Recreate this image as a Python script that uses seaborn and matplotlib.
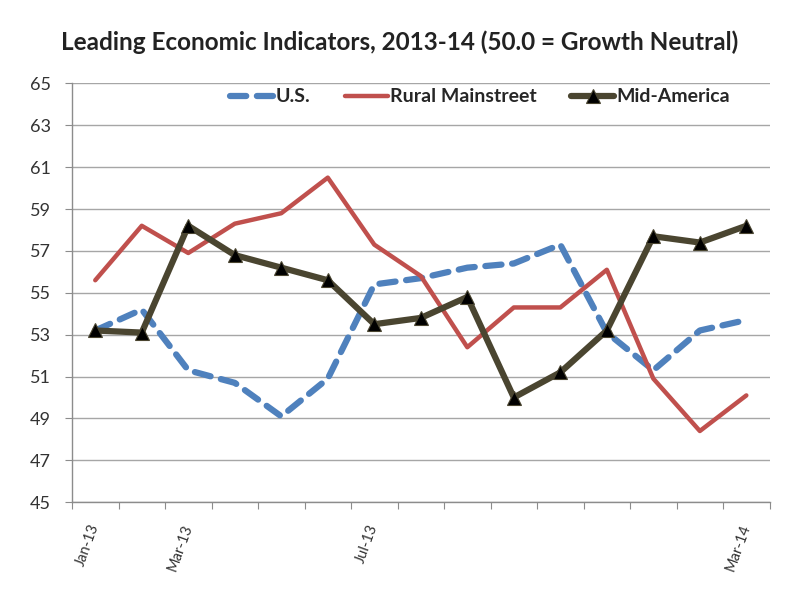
import matplotlib
matplotlib.use("Agg")
import matplotlib.pyplot as plt
from matplotlib.ticker import FixedLocator, NullFormatter
import seaborn as sns
import pandas as pd

months = ["Jan-13", "Feb-13", "Mar-13", "Apr-13", "May-13", "Jun-13", "Jul-13",
          "Aug-13", "Sep-13", "Oct-13", "Nov-13", "Dec-13", "Jan-14", "Feb-14", "Mar-14"]
us = [53.2, 54.2, 51.3, 50.7, 49.1, 50.9, 55.4, 55.7, 56.2, 56.4, 57.3, 53.1, 51.3, 53.2, 53.7]
rural = [55.6, 58.2, 56.9, 58.3, 58.8, 60.5, 57.3, 55.8, 52.4, 54.3, 54.3, 56.1, 50.9, 48.4, 50.1]
mid_america = [53.2, 53.1, 58.2, 56.8, 56.2, 55.6, 53.5, 53.8, 54.8, 50.0, 51.2, 53.2, 57.7, 57.4, 58.2]
labeled_months = ["Jan-13", "Mar-13", "Jul-13", "Mar-14"]
y_ticks = [45, 47, 49, 51, 53, 55, 57, 59, 61, 63, 65]
title = "Leading Economic Indicators, 2013-14 (50.0 = Growth Neutral)"

sns.set_style("white")
plt.rcParams['font.family'] = ['Lato', 'DejaVu Sans']

df = pd.DataFrame({"idx": range(len(months)), "month": months,
                   "U.S.": us, "Rural Mainstreet": rural, "Mid-America": mid_america})

fig = plt.figure(figsize=(8, 6), dpi=100)
ax = fig.add_axes([0.09, 0.163, 0.872, 0.698])

sns.lineplot(data=df, x="idx", y="U.S.", ax=ax, color="#4F81BD", linewidth=4.5,
             linestyle=(0, (2.6, 1.7)), dash_capstyle="round", label="U.S.")
sns.lineplot(data=df, x="idx", y="Rural Mainstreet", ax=ax, color="#C0504D",
             linewidth=3.2, label="Rural Mainstreet")
sns.lineplot(data=df, x="idx", y="Mid-America", ax=ax, color="#4A4530", linewidth=4.5,
             marker="^", markersize=10.5, markerfacecolor="black", markeredgecolor="#4A4530",
             markeredgewidth=0.8, label="Mid-America")

ax.set_xlim(-0.5, len(months) - 0.5)
ax.set_ylim(45, 65)
ax.set_yticks(y_ticks)
ax.set_yticklabels([str(v) for v in y_ticks], fontsize=13, color="#333333")
ax.yaxis.grid(True, color="#A6A6A6", linewidth=1)
ax.set_axisbelow(True)

# category boundary ticks
ax.xaxis.set_major_locator(FixedLocator([i - 0.5 for i in range(len(months) + 1)]))
ax.xaxis.set_major_formatter(NullFormatter())
lab_pos = [months.index(m) for m in labeled_months]
ax.xaxis.set_minor_locator(FixedLocator(lab_pos))
ax.set_xticklabels(labeled_months, minor=True, rotation=70, ha="right", va="center",
                   rotation_mode="anchor", fontsize=10.5, color="#333333")
ax.tick_params(axis="x", which="major", direction="out", length=5, color="#8C8C8C", bottom=True)
ax.tick_params(axis="x", which="minor", length=0, pad=16)
ax.tick_params(axis="y", direction="out", length=5, color="#8C8C8C", left=True, pad=10)
ax.set_xlabel("")
ax.set_ylabel("")

for s in ["top", "right"]:
    ax.spines[s].set_visible(False)
for s in ["left", "bottom"]:
    ax.spines[s].set_color("#8C8C8C")
    ax.spines[s].set_linewidth(1)

ax.legend(loc="upper center", bbox_to_anchor=(0.585, 1.03), ncol=3, frameon=False,
          handlelength=2.2, handletextpad=0.1, columnspacing=1.8,
          prop={"weight": "bold", "size": 14})

fig.text(0.5, 0.93, title, ha="center", va="center", fontsize=17.5, fontweight="bold",
         color="#222222")

fig.savefig("out.png", dpi=100)
